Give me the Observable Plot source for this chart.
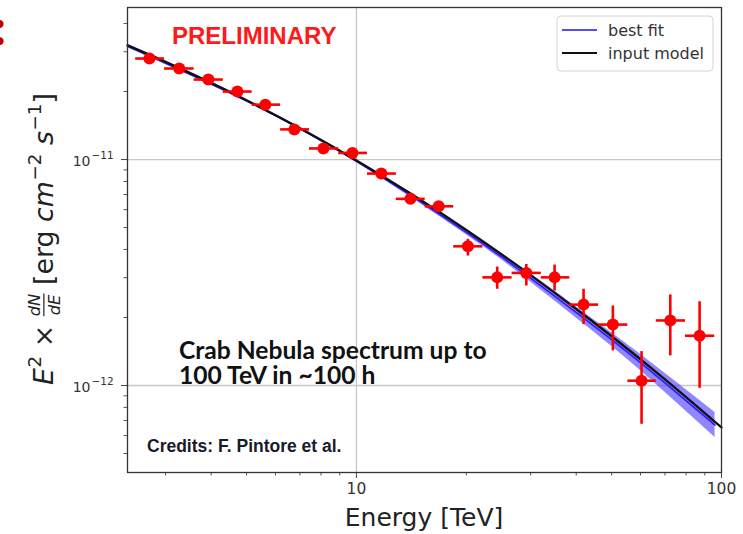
<!DOCTYPE html>
<html><head><meta charset="utf-8">
<script src="https://cdn.jsdelivr.net/npm/d3@7"></script>
<script src="https://cdn.jsdelivr.net/npm/@observablehq/plot@0.6"></script>
<style>
html,body{margin:0;padding:0;background:#fff;}
#chart{position:relative;width:743px;height:534px;overflow:hidden;}
</style></head><body><div id="chart"></div>
<script>
// ---- data ----
const energy = [2.71,3.27,3.93,4.72,5.63,6.76,8.12,9.75,11.7,14.06,16.8,20.2,24.3,29.2,34.9,41.9,50.4,60.4,72.4,87.1];
const flux   = [2.80e-11,2.53e-11,2.26e-11,2.00e-11,1.75e-11,1.36e-11,1.12e-11,1.07e-11,8.67e-12,6.70e-12,6.21e-12,4.13e-12,3.01e-12,3.15e-12,3.01e-12,2.28e-12,1.86e-12,1.05e-12,1.94e-12,1.66e-12];
const energyLo = [2.477,2.972,3.581,4.305,5.164,6.180,7.413,8.913,10.69,12.82,15.38,18.41,22.13,26.61,31.99,38.28,45.92,55.21,66.07,79.43];
const energyHi = [2.972,3.581,4.305,5.164,6.180,7.413,8.913,10.69,12.82,15.38,18.41,22.13,26.61,31.99,38.28,45.92,55.21,66.07,79.43,95.5];
const fluxLo = [2.77e-11,2.50e-11,2.23e-11,1.97e-11,1.72e-11,1.34e-11,1.10e-11,1.05e-11,8.50e-12,6.38e-12,5.89e-12,3.76e-12,2.68e-12,2.77e-12,2.63e-12,1.87e-12,1.43e-12,6.77e-13,1.36e-12,9.77e-13];
const fluxHi = [2.83e-11,2.56e-11,2.29e-11,2.03e-11,1.78e-11,1.38e-11,1.14e-11,1.09e-11,8.84e-12,7.00e-12,6.52e-12,4.46e-12,3.36e-12,3.45e-12,3.43e-12,2.68e-12,2.26e-12,1.42e-12,2.53e-12,2.36e-12];

const modelE = [2.36,3,4,5,7,10,14,20,30,40,50,70,100];
const modelF = [3.20e-11,2.707e-11,2.186e-11,1.831e-11,1.375e-11,9.91e-12,7.11e-12,4.88e-12,3.08e-12,2.18e-12,1.652e-12,1.065e-12,6.52e-13];

const fitE  = [2.36,5,10,20,30,50,70,96];
const fitF  = [3.184e-11,1.820e-11,9.84e-12,4.76e-12,2.99e-12,1.596e-12,1.028e-12,6.68e-13];
const fitLo = [3.126e-11,1.795e-11,9.68e-12,4.65e-12,2.87e-12,1.49e-12,9.33e-13,5.89e-13];
const fitHi = [3.243e-11,1.845e-11,1.000e-11,4.89e-12,3.12e-12,1.71e-12,1.132e-12,7.59e-13];

const xMajor = [10,100];
const xMinor = [3,4,5,6,7,8,9,20,30,40,50,60,70,80,90];
const yMajor = [1e-12,1e-11];
const yMajorExp = ["−12","−11"];
const yMinor = [5e-13,6e-13,7e-13,8e-13,9e-13,2e-12,3e-12,4e-12,5e-12,6e-12,7e-12,8e-12,9e-12,2e-11,3e-11,4e-11];
const legendLabels = ["best fit","input model"];

// ---- tables ----
const pts = energy.map((e,i)=>({e, f:flux[i], elo:energyLo[i], ehi:energyHi[i], flo:fluxLo[i], fhi:fluxHi[i]}));
const model = modelE.map((e,i)=>({e, f:modelF[i]}));
const fit = fitE.map((e,i)=>({e, f:fitF[i], lo:fitLo[i], hi:fitHi[i]}));
const yTicks = yMajor.map((v,i)=>({v, exp:yMajorExp[i]}));

const RED = "#ff0000";
const plot = Plot.plot({
  width:743, height:534,
  marginLeft:127, marginRight:22, marginTop:7, marginBottom:62,
  x:{type:"log", domain:[2.36,100], label:null},
  y:{type:"log", domain:[4.12e-13,4.71e-11], label:null},
  style:{fontFamily:"DejaVu Sans", background:"#fff", overflow:"visible"},
  marks:[
    Plot.ruleX([10], {stroke:"#c8c8c8", strokeWidth:1.3}),
    Plot.ruleY(yMajor, {stroke:"#c8c8c8", strokeWidth:1.3}),
    Plot.areaY(fit, {x:"e", y1:"lo", y2:"hi", fill:"#5547ff", fillOpacity:0.65, curve:"natural"}),
    Plot.line(fit, {x:"e", y:"f", stroke:"#2a18ff", strokeWidth:1.6, curve:"natural"}),
    Plot.line(model, {x:"e", y:"f", stroke:"#111", strokeWidth:2.3, curve:"natural"}),
    Plot.link(pts, {x1:"elo", x2:"ehi", y1:"f", y2:"f", stroke:RED, strokeWidth:2.6}),
    Plot.link(pts, {x1:"e", x2:"e", y1:"flo", y2:"fhi", stroke:RED, strokeWidth:2.6}),
    Plot.dot(pts, {x:"e", y:"f", r:6, fill:RED, stroke:null}),
    Plot.axisX(xMajor, {tickSize:6, tickPadding:4, fontSize:15.5, tickFormat:d=>String(d), label:null, stroke:"#444", fill:"#333"}),
    Plot.axisX(xMinor, {tickSize:3.5, tickFormat:()=>"", label:null, stroke:"#555"}),
    Plot.axisY(yMajor, {tickSize:6, tickFormat:()=>"", label:null, stroke:"#444"}),
    Plot.axisY(yMinor, {tickSize:3.5, tickFormat:()=>"", label:null, stroke:"#555"}),
    Plot.text(yTicks, {y:"v", text:()=>"10", frameAnchor:"left", textAnchor:"end", dx:-37, dy:2, fontSize:14, fill:"#333"}),
    Plot.text(yTicks, {y:"v", text:"exp", frameAnchor:"left", textAnchor:"start", dx:-36, dy:-4, fontSize:10.5, fill:"#333"}),
    Plot.frame({stroke:"#333", strokeWidth:1.3})
  ]
});
document.getElementById("chart").appendChild(plot);

const svg = d3.select(plot);
const extra = svg.append("g").attr("text-anchor","start");
// red colon cut at the left edge
extra.append("text").attr("x",-7).attr("y",45).attr("font-family","Lato").attr("font-weight",900)
  .attr("font-size",50).attr("fill","#c00000").text(":");

// PRELIMINARY
extra.append("text").attr("x",172).attr("y",44).attr("font-family","Liberation Sans").attr("font-weight","bold")
  .attr("font-size",24).attr("fill","#ff1a1a").text("PRELIMINARY");

// annotation
const ann = extra.append("g").attr("font-family","Lato").attr("font-weight","bold").attr("fill","#111");
const a1 = ann.append("text").attr("x",179).attr("y",359).attr("font-size",22).text("Crab Nebula spectrum up to");
const w1 = a1.node().getComputedTextLength();
const fs = 22*308/w1;
a1.attr("font-size",fs);
ann.append("text").attr("x",179).attr("y",384).attr("font-size",fs).text("100 TeV in ~100 h");

// credits
extra.append("text").attr("x",147).attr("y",452).attr("font-family","Liberation Sans").attr("font-weight","bold")
  .attr("font-size",17.5).attr("fill","#1a1a2a").text("Credits: F. Pintore et al.");

// x label
extra.append("text").attr("x",424).attr("y",526).attr("text-anchor","middle").attr("font-family","DejaVu Sans")
  .attr("font-size",25).attr("fill","#222").text("Energy [TeV]");

// y label (built piece by piece)
const yl = extra.append("g").attr("font-family","DejaVu Sans").attr("fill","#222");
const inner = yl.append("g");
let cx = 0;
function piece(str, size, italic, dy, gap){
  const t = inner.append("text").attr("x",cx).attr("y",dy||0).attr("font-size",size)
    .attr("font-style", italic?"italic":"normal").attr("xml:space","preserve").style("white-space","pre").text(str);
  const w = t.node().getComputedTextLength();
  cx += w + (gap||0);
  return w;
}
piece("E",22,true,0,0.5);
piece("2",15,false,-10,0);
piece(" × ",22,false,0,0);
{
  const fx = cx;
  const t1 = inner.append("text").attr("x",fx).attr("y",-11).attr("font-size",13.5).attr("font-style","italic").text("dN");
  const t2 = inner.append("text").attr("x",fx).attr("y",6).attr("font-size",13.5).attr("font-style","italic").text("dE");
  const w = Math.max(t1.node().getComputedTextLength(), t2.node().getComputedTextLength());
  t1.attr("x", fx + (w - t1.node().getComputedTextLength())/2);
  t2.attr("x", fx + (w - t2.node().getComputedTextLength())/2);
  inner.append("line").attr("x1",fx).attr("x2",fx+w).attr("y1",-7.5).attr("y2",-7.5).attr("stroke","#222").attr("stroke-width",1);
  cx += w;
}
piece(" [erg ",22,false,0,0);
piece("cm",22,true,0,0.5);
piece("−2",15,false,-10,0);
piece(" ",22,false,0,0);
piece("s",22,true,0,0.5);
piece("−1",15,false,-10,0);
piece("]",22,false,0,0);
const W = cx;
const sc = 292/W;
inner.attr("transform",`scale(${sc}) translate(${-W/2},0)`);
yl.attr("transform","translate(53,239) rotate(-90)");

// legend
const lg = extra.append("g");
lg.append("rect").attr("x",557).attr("y",16).attr("width",156).attr("height",55).attr("rx",4)
  .attr("fill","#fff").attr("fill-opacity",0.85).attr("stroke","#d4d4d4").attr("stroke-width",1);
lg.append("line").attr("x1",562).attr("x2",597).attr("y1",30).attr("y2",30).attr("stroke","#5a48ff").attr("stroke-width",2.2);
lg.append("line").attr("x1",562).attr("x2",597).attr("y1",53).attr("y2",53).attr("stroke","#111").attr("stroke-width",2.2);
lg.append("text").attr("x",608).attr("y",36).attr("font-family","DejaVu Sans").attr("font-size",16).attr("fill","#333").text(legendLabels[0]);
lg.append("text").attr("x",608).attr("y",59).attr("font-family","DejaVu Sans").attr("font-size",16).attr("fill","#333").text(legendLabels[1]);
</script>
</body></html>
